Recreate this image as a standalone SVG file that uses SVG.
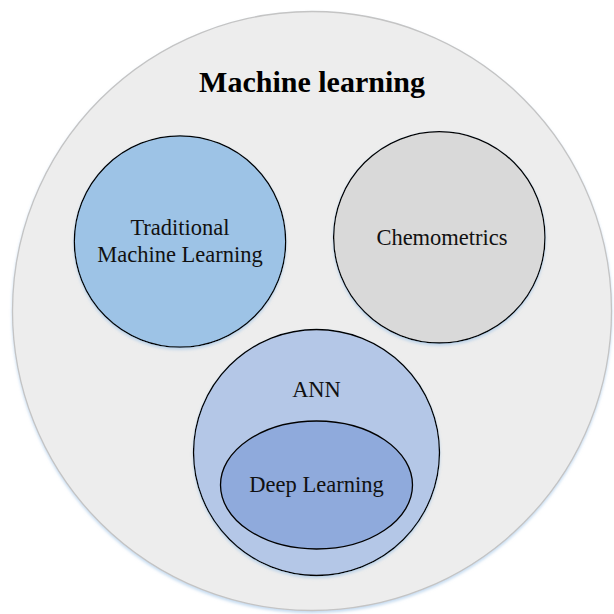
<svg xmlns="http://www.w3.org/2000/svg" width="614" height="614" viewBox="0 0 614 614">
<style>
.shape{stroke:#000;stroke-width:1.3;filter:url(#sh)}
.lbl{font-family:"Liberation Serif","Times New Roman",serif;font-size:22.5px;fill:#111;text-anchor:middle}
.title{font-family:"Liberation Serif","Times New Roman",serif;font-size:30px;font-weight:bold;fill:#000;text-anchor:middle}
</style>
<defs>
<filter id="sh" x="-10%" y="-10%" width="120%" height="125%">
<feDropShadow dx="0" dy="2" stdDeviation="1.5" flood-color="#9dc3e6" flood-opacity="0.6"/>
</filter>
</defs>
<rect width="614" height="614" fill="#ffffff"/>
<g id="machine-learning">
<circle cx="312" cy="311" r="299.5" fill="#ededed" stroke="#c4c4c4" stroke-width="1.3" filter="url(#sh)"/>
<text class="title" x="312" y="92">Machine learning</text>
</g>
<g id="traditional-ml">
<circle class="shape" cx="180" cy="241.5" r="105.7" fill="#9dc3e6"/>
<text class="lbl" x="180" y="235">Traditional</text>
<text class="lbl" x="180" y="262">Machine Learning</text>
</g>
<g id="chemometrics">
<circle class="shape" cx="439.3" cy="237.3" r="105.7" fill="#d9d9d9"/>
<text class="lbl" x="442" y="245">Chemometrics</text>
</g>
<g id="ann">
<circle class="shape" cx="316.5" cy="452.5" r="123" fill="#b4c7e7"/>
<text class="lbl" x="316.5" y="397">ANN</text>
</g>
<g id="deep-learning">
<ellipse class="shape" cx="316.5" cy="485" rx="96" ry="64" fill="#8faadc" style="filter:none"/>
<text class="lbl" x="316.5" y="492">Deep Learning</text>
</g>
<g id="connectors"/>
</svg>
